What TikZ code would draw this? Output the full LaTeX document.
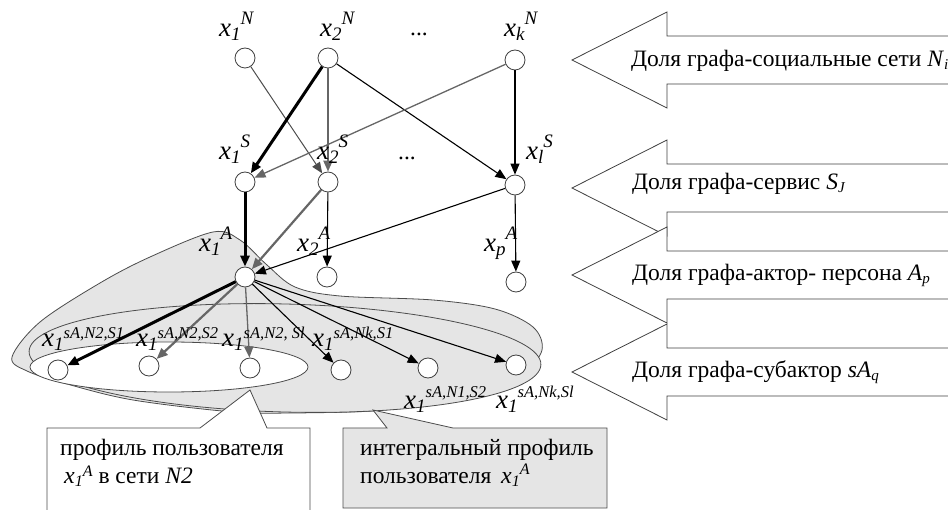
\documentclass[tikz,border=0pt]{standalone}
\usepackage{fontspec}
\setmainfont{Liberation Serif}
\usetikzlibrary{arrows.meta}
\newcommand{\lx}[4][12pt]{{\fontsize{27}{27}\selectfont\itshape x}\raisebox{-4pt}{\fontsize{19}{19}\selectfont\itshape #2}\raisebox{#1}{\fontsize{#4}{#4}\selectfont\itshape #3}}
\newcommand{\smx}[2]{{\fontsize{24}{24}\selectfont\itshape x}\raisebox{-3pt}{\fontsize{16}{16}\selectfont\itshape 1}\raisebox{#1}{\fontsize{16}{16}\selectfont\itshape #2}}
\newcommand{\sbs}[1]{\raisebox{-3pt}{\fontsize{15}{15}\selectfont\itshape #1}}
\begin{document}
\begin{tikzpicture}[x=1pt,y=-1pt,
  vtx/.style={circle,draw=black!75,fill=white,minimum size=20pt,inner sep=0pt,line width=0.8pt},
  lab/.style={anchor=base west,inner sep=0pt},
  txt/.style={anchor=base west,inner sep=0pt,font=\fontsize{23.5}{28}\selectfont},
  tip/.style={-{Triangle[length=11pt,width=9pt]}},
  thickE/.style={tip,line width=3pt,black},
  grayE/.style={tip,line width=2.2pt,black!60},
  grayT/.style={tip,line width=1.3pt,black!60},
  thinE/.style={tip,line width=1.1pt,black},
  bigarrow/.style={fill=white,draw=black!75,line width=0.8pt},
  region/.style={fill=black!10,draw=black!70,line width=0.8pt}]
\useasboundingbox (0,0) rectangle (948,510);
\clip (0,0) rectangle (948,510);

% right side block arrows
\foreach \cy in {60,188,275,372}{
  \draw[bigarrow] (960,\cy-24) -- (667,\cy-24) -- (667,\cy-48) -- (572,\cy)
     -- (667,\cy+48) -- (667,\cy+24) -- (960,\cy+24);
}
\node[txt] (t1) at (631,67) {Доля графа-социальные сети \textit{N}\sbs{i}};
\node[txt] (t2) at (632,190) {Доля графа-сервис \textit{S}\sbs{J}};
\node[txt] (t3) at (632,281) {Доля графа-актор- персона \textit{A}\sbs{p}};
\node[txt] (t4) at (632,378) {Доля графа-субактор \textit{sA}\sbs{q}};

% regions
\draw[region] plot[smooth cycle,tension=0.55] coordinates {
  (12,357) (40,322) (100,283) (150,257) (213,232) (240,240) (267,265)
  (295,287) (340,296) (433,300) (495,309) (533,327) (542,350)
  (523,374) (490,390) (423,404) (373,411) (290,413) (233,412)
  (133,400) (67,384) (27,371)};
\draw[region] (285,358) ellipse[x radius=256,y radius=54,rotate=-1.5];
\draw[fill=white,draw=black!70,line width=0.8pt] (169,367) ellipse[x radius=139,y radius=25];

% callouts
\draw[fill=white,draw=black!70,line width=0.8pt] (47,520) -- (47,428) -- (200,428) -- (250,390)
   -- (267,428) -- (310,428) -- (310,520);
\draw[region] (343,508) -- (343,428) -- (387,428) -- (373,410) -- (453,428)
   -- (607,428) -- (607,508) -- cycle;
\node[txt] (c1a) at (60,456) {профиль пользователя};
\node[txt] (c1b) at (64,483) {\smx{7pt}{A} в сети \textit{N2}};
\node[txt] (c2a) at (360,456) {интегральный профиль};
\node[txt] (c2b) at (360,483) {пользователя\, \smx{9pt}{A}};

% vertices
\node[vtx] (N1) at (245,58) {};
\node[vtx] (N2) at (328,58) {};
\node[vtx] (Nk) at (515,60) {};
\node[vtx] (S1) at (245,182) {};
\node[vtx] (S2) at (328,182) {};
\node[vtx] (Sl) at (515,185) {};
\node[vtx] (A1) at (245,277) {};
\node[vtx] (A2) at (327,277) {};
\node[vtx] (Ap) at (516,282) {};
\node[vtx] (s1) at (58,370) {};
\node[vtx] (s2) at (149,366) {};
\node[vtx] (s3) at (250,368) {};
\node[vtx] (s4) at (341,370) {};
\node[vtx] (s5) at (428,368) {};
\node[vtx] (s6) at (516,365) {};

% edges
\draw[grayT,line width=1pt,black!70] (N1) -- (S2);
\draw[thickE] (N2) -- (S1);
\draw[grayE] (N2) -- (S2);
\draw[thinE] (N2) -- (Sl);
\draw[grayT] (Nk) -- (S1);
\draw[thinE] (Nk) -- (Sl);
\draw[thickE] (S1) -- (A1);
\draw[grayE] (S2) -- (A1);
\draw[thinE] (S2) -- (A2);
\draw[thinE] (Sl) -- (A1);
\draw[thinE] (Sl) -- (Ap);
\draw[thickE] (A1) -- (s1);
\draw[grayE] (A1) -- (s2);
\draw[grayT] (A1) -- (s3);
\draw[thinE] (A1) -- (s4);
\draw[thinE] (A1) -- (s5);
\draw[thinE] (A1) -- (s6);

% labels
\node[lab] (lN1) at (219,37) {\lx{1}{N}{19}};
\node[lab] (lN2) at (320,37) {\lx{2}{N}{19}};
\node[txt] (d1) at (410,36) {...};
\node[lab] (lNk) at (504,37) {\lx{k}{N}{19}};
\node[lab] (lS1) at (219,160) {\lx{1}{S}{19}};
\node[lab] (lS2) at (317,160) {\lx{2}{S}{19}};
\node[txt] (d2) at (398,160) {...};
\node[lab] (lSl) at (526,160) {\lx{l}{S}{19}};
\node[lab] (lA1) at (199,252) {\lx{1}{A}{19}};
\node[lab] (lA2) at (297,252) {\lx{2}{A}{19}};
\node[lab] (lAp) at (484,252) {\lx{p}{A}{19}};
\node[lab] (ls1) at (42,347) {\lx[8pt]{1}{sA,N2,S1}{16.5}};
\node[lab] (ls2) at (136,347) {\lx[8pt]{1}{sA,N2,S2}{16.5}};
\node[lab] (ls3) at (222,347) {\lx[8pt]{1}{sA,N2, Sl}{16.5}};
\node[lab] (ls4) at (312,347) {\lx[8pt]{1}{sA,Nk,S1}{16.5}};
\node[lab] (ls5) at (404,409) {\lx[11pt]{1}{sA,N1,S2}{16.5}};
\node[lab] (ls6) at (496,409) {\lx[11pt]{1}{sA,Nk,Sl}{16.5}};
\end{tikzpicture}
\end{document}
